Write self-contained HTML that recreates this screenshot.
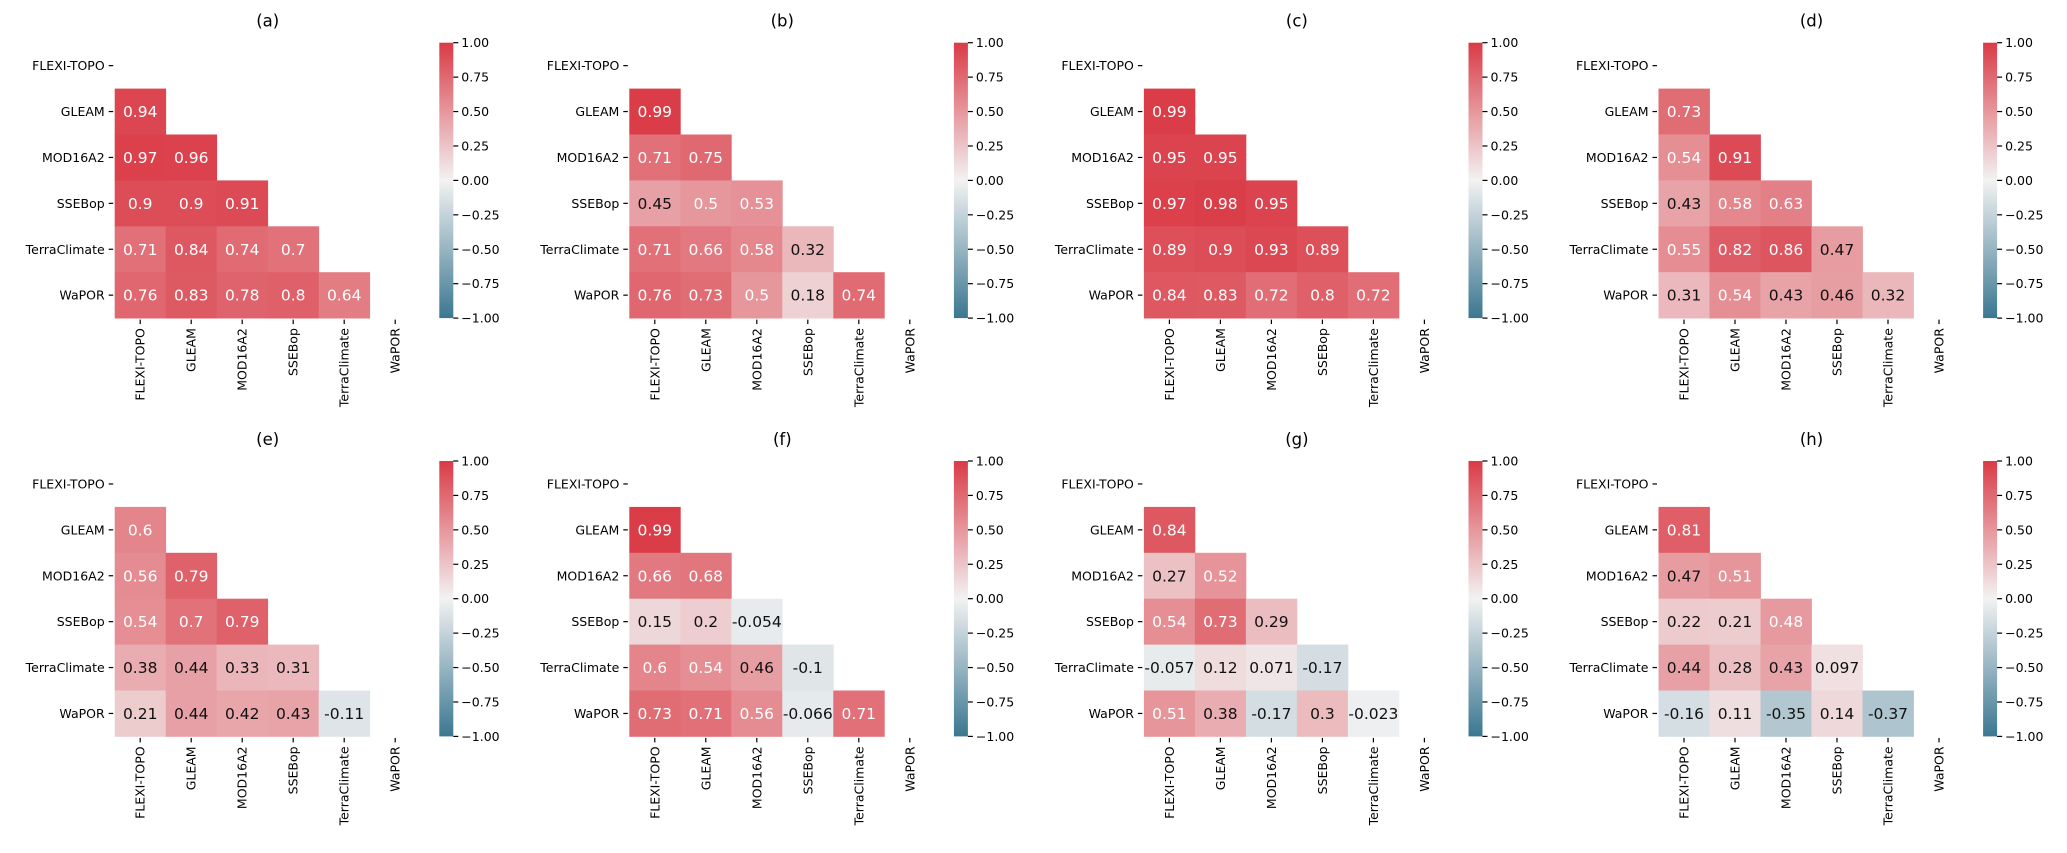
<!DOCTYPE html>
<html><head><meta charset="utf-8">
<style>
html,body{margin:0;padding:0;background:#fff;}
svg{display:block;font-family:"DejaVu Sans","Liberation Sans",sans-serif;}
</style></head>
<body>
<svg id="fig" width="2067" height="853" viewBox="0 0 2067 853" xmlns="http://www.w3.org/2000/svg"></svg>
<script>
const labels = ["FLEXI-TOPO","GLEAM","MOD16A2","SSEBop","TerraClimate","WaPOR"];
const panelTitles = ["(a)","(b)","(c)","(d)","(e)","(f)","(g)","(h)"];
const cbTicks = [1.00,0.75,0.50,0.25,0.00,-0.25,-0.50,-0.75,-1.00];
const cbTickLabels = ["1.00","0.75","0.50","0.25","0.00","\u22120.25","\u22120.50","\u22120.75","\u22121.00"];
const panelA = [[0.94],[0.97,0.96],[0.9,0.9,0.91],[0.71,0.84,0.74,0.7],[0.76,0.83,0.78,0.8,0.64]];
const panelB = [[0.99],[0.71,0.75],[0.45,0.5,0.53],[0.71,0.66,0.58,0.32],[0.76,0.73,0.5,0.18,0.74]];
const panelC = [[0.99],[0.95,0.95],[0.97,0.98,0.95],[0.89,0.9,0.93,0.89],[0.84,0.83,0.72,0.8,0.72]];
const panelD = [[0.73],[0.54,0.91],[0.43,0.58,0.63],[0.55,0.82,0.86,0.47],[0.31,0.54,0.43,0.46,0.32]];
const panelE = [[0.6],[0.56,0.79],[0.54,0.7,0.79],[0.38,0.44,0.33,0.31],[0.21,0.44,0.42,0.43,-0.11]];
const panelF = [[0.99],[0.66,0.68],[0.15,0.2,-0.054],[0.6,0.54,0.46,-0.1],[0.73,0.71,0.56,-0.066,0.71]];
const panelG = [[0.84],[0.27,0.52],[0.54,0.73,0.29],[-0.057,0.12,0.071,-0.17],[0.51,0.38,-0.17,0.3,-0.023]];
const panelH = [[0.81],[0.47,0.51],[0.22,0.21,0.48],[0.44,0.28,0.43,0.097],[-0.16,0.11,-0.35,0.14,-0.37]];
const panels = [panelA,panelB,panelC,panelD,panelE,panelF,panelG,panelH];

const NS="http://www.w3.org/2000/svg";
const svg=document.getElementById('fig');
function mk(tag,attrs,parent){const e=document.createElementNS(NS,tag);for(const k in attrs)e.setAttribute(k,attrs[k]);(parent||svg).appendChild(e);return e;}
const RED=[218,59,70], MID=[242,242,242], BLUE=[59,119,145];
function color(v){v=Math.max(-1,Math.min(1,v));const a=v>=0?RED:BLUE;const t=Math.abs(v);
  return `rgb(${Math.round(MID[0]+(a[0]-MID[0])*t)},${Math.round(MID[1]+(a[1]-MID[1])*t)},${Math.round(MID[2]+(a[2]-MID[2])*t)})`;}
const defs=mk('defs',{});
const grad=mk('linearGradient',{id:'cbgrad',x1:0,y1:0,x2:0,y2:1},defs);
for(let i=0;i<=20;i++){mk('stop',{offset:(i/20),'stop-color':color(1-2*i/20)},grad);}

const CW=51, CH=45.9, X0=114.7, Y0=42.7, DX=514.6, DY=418.3;
panels.forEach((data,p)=>{
  const ox=X0+(p%4)*DX, oy=Y0+Math.floor(p/4)*DY;
  const g=mk('g',{});
  
  
  const xs=i=>ox+i*CW, ys=j=>oy+j*CH;
  const t=mk('text',{x:ox+3*CW,y:oy-16,'font-size':16.5,'text-anchor':'middle'},g);
  t.textContent=panelTitles[p];
  
  
  data.forEach((row,r)=>{row.forEach((v,c)=>{
    const rc=mk('rect',{x:xs(c),y:ys(r+1),width:CW+0.4,height:CH+0.4,fill:color(v)},g);
    
    
    const tx=mk('text',{x:xs(c)+CW/2,y:ys(r+1)+CH/2+5.5,'font-size':15.5,'text-anchor':'middle',fill:v>=0.48?'#fff':'#111'},g);
    tx.textContent=String(v);
    
    
  });});
  labels.forEach((lb,i)=>{
    mk('line',{x1:ox-6,x2:ox-1.5,y1:ys(i)+CH/2,y2:ys(i)+CH/2,stroke:'#000','stroke-width':1.2},g);
    const yl=mk('text',{x:ox-10,y:ys(i)+CH/2+4.5,'font-size':12.5,'text-anchor':'end'},g);
    yl.textContent=lb;
    
    
    const bx=xs(i)+CW/2, by=oy+6*CH;
    mk('line',{x1:bx,x2:bx,y1:by+1.5,y2:by+6,stroke:'#000','stroke-width':1.2},g);
    const xl=mk('text',{x:0,y:0,'font-size':12.5,'text-anchor':'end',transform:`translate(${bx+4.5},${by+10}) rotate(-90)`},g);
    xl.textContent=lb;
    
    
  });
  const cx=ox+324.6, cy=oy, chh=6*CH;
  const cb=mk('rect',{x:cx,y:cy,width:14,height:chh,fill:'url(#cbgrad)'},g);
  
  
  cbTicks.forEach((tv,i)=>{
    const ty=cy+(1-tv)/2*chh;
    mk('line',{x1:cx+14,x2:cx+19,y1:ty,y2:ty,stroke:'#000','stroke-width':1.2},g);
    const cl=mk('text',{x:cx+22,y:ty+4.5,'font-size':12.5},g);
    cl.textContent=cbTickLabels[i];
    
    
  });
});
</script>
</body></html>
